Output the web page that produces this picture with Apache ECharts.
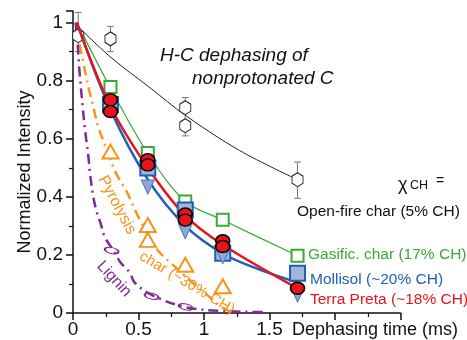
<!DOCTYPE html>
<html>
<head>
<meta charset="utf-8">
<script src="https://cdn.jsdelivr.net/npm/echarts@6/dist/echarts.min.js"></script>
<style>
  html, body { margin: 0; padding: 0; background: #fff; }
  #dephasing { width: 467px; height: 340px; }
</style>
</head>
<body>
<div id="dephasing"></div>
<script>
// x = dephasing time (ms), y = normalized intensity
var xTicks = [0, 0.5, 1, 1.5];

// open-fire char (hexagons) + error bars [t, low, high] + fit curve
var openFire = [[0.04, 0.955], [0.286, 0.944], [0.857, 0.707], [0.857, 0.645], [1.714, 0.459]];
var openFireErr = [[0.04, 0.90, 1.035], [0.286, 0.90, 0.987], [0.857, 0.61, 0.742], [1.714, 0.395, 0.52]];
var openFireFit = [[0.03, 0.99], [0.29, 0.88], [0.59, 0.775], [0.86, 0.68], [1.27, 0.56], [1.71, 0.46]];

// gasification char (open squares)
var gasific = [[0.286, 0.778], [0.571, 0.551], [0.857, 0.384], [1.143, 0.321], [1.714, 0.197]];
var gasificFit = [[0.03, 1], [0.286, 0.775], [0.571, 0.55], [0.857, 0.385], [1.143, 0.32], [1.714, 0.197]];

// mollisol (filled squares + down triangles)
var mollisolSq = [[0.286, 0.718], [0.571, 0.499], [0.857, 0.355], [1.143, 0.206], [1.714, 0.137]];
var mollisolTri = [[0.571, 0.434], [0.857, 0.28], [1.143, 0.194], [1.714, 0.062]];
var mollisolFit = [[0.03, 1], [0.286, 0.70], [0.571, 0.46], [0.857, 0.30], [1.143, 0.205], [1.42, 0.15], [1.714, 0.105]];

// terra preta (red circles)
var terraPreta = [[0.286, 0.734], [0.286, 0.694], [0.571, 0.528], [0.571, 0.51], [0.857, 0.341], [0.857, 0.32],
  [1.143, 0.249], [1.143, 0.229], [1.714, 0.085]];
var terraPretaFit = [[0.03, 1], [0.286, 0.712], [0.571, 0.50], [0.857, 0.335], [1.143, 0.235], [1.714, 0.085]];

// pyrolysis char (open triangles)
var pyrolysis = [[0.286, 0.556], [0.571, 0.303], [0.571, 0.252], [0.857, 0.166], [1.143, 0.092]];
var pyrolysisFit = [[0.02, 1], [0.053, 0.92], [0.08, 0.86], [0.117, 0.78], [0.155, 0.71], [0.19, 0.645], [0.26, 0.56],
  [0.33, 0.48], [0.41, 0.418], [0.5, 0.33], [0.64, 0.22], [0.74, 0.175], [0.9, 0.11], [1.03, 0.06], [1.12, 0.025], [1.2, 0.005]];

// lignin (open ellipses)
var lignin = [[0.295, 0.215], [0.6, 0.058], [0.86, 0.021]];
var ligninFit = [[0.02, 1], [0.035, 0.93], [0.05, 0.83], [0.074, 0.71], [0.092, 0.63], [0.117, 0.54], [0.13, 0.48],
  [0.155, 0.40], [0.18, 0.35], [0.21, 0.31], [0.244, 0.26], [0.31, 0.215], [0.36, 0.176], [0.435, 0.138], [0.47, 0.105],
  [0.61, 0.06], [0.86, 0.02], [1.1, 0.008], [1.45, 0.003]];

var FONT = 'Liberation Sans, Arial, Helvetica, sans-serif';
var BLACK = '#111', GREEN = '#3aa935', BLUE = '#1f5fb4', RED = '#e8131b', ORANGE = '#f7941d', PURPLE = '#7e2b92';
var HEX = 'path://M0,-1 L0.866,-0.5 L0.866,0.5 L0,1 L-0.866,0.5 L-0.866,-0.5 Z';

var chartDom = document.getElementById('dephasing');
var myChart = echarts.init(chartDom, null, { renderer: 'canvas', devicePixelRatio: 1 });

function fitLine(data, color, width, type, z) {
  return {
    type: 'line', data: data, smooth: 0.35, symbol: 'none', z: z,
    lineStyle: { color: color, width: width, type: type || 'solid' },
    silent: true
  };
}
function marks(data, symbol, size, fill, stroke, bw, z, rotate) {
  return {
    type: 'scatter', data: data, symbol: symbol, symbolSize: size, symbolRotate: rotate || 0, z: z,
    itemStyle: { color: fill, borderColor: stroke, borderWidth: bw, opacity: 1 },
    silent: true
  };
}
function label(text, x, y, font, color, rotation, align) {
  return {
    type: 'text', silent: true, z: 10, x: x, y: y, rotation: rotation || 0,
    style: { text: text, font: font, fill: color, align: align || 'left', verticalAlign: 'middle' }
  };
}

var option = {
  animation: false,
  grid: { left: 73, right: 66.5, top: 11, bottom: 27 },
  xAxis: {
    type: 'value', min: 0, max: 2.5, interval: 0.5,
    axisLine: { show: true, onZero: false, lineStyle: { color: BLACK, width: 1.5 } },
    axisTick: { show: true, length: 7, lineStyle: { color: BLACK, width: 1.5 } },
    minorTick: { show: true, splitNumber: 2, length: 4, lineStyle: { color: BLACK, width: 1.2 } },
    splitLine: { show: false },
    axisLabel: {
      margin: 7, fontSize: 19, color: BLACK, fontFamily: FONT,
      formatter: function (v) { return xTicks.indexOf(v) >= 0 ? String(v) : ''; }
    }
  },
  yAxis: {
    type: 'value', min: 0, max: 1.04, interval: 0.2,
    axisLine: { show: true, onZero: false, lineStyle: { color: BLACK, width: 1.5 } },
    axisTick: { show: true, length: 7, lineStyle: { color: BLACK, width: 1.5 } },
    minorTick: { show: true, splitNumber: 2, length: 4, lineStyle: { color: BLACK, width: 1.2 } },
    splitLine: { show: false },
    axisLabel: { margin: 10, fontSize: 19, color: BLACK, fontFamily: FONT, showMaxLabel: false }
  },
  series: [
    {
      type: 'custom', z: 2, silent: true,
      data: openFireErr,
      encode: { x: 0, y: [1, 2] },
      renderItem: function (params, api) {
        var lo = api.coord([api.value(0), api.value(1)]);
        var hi = api.coord([api.value(0), api.value(2)]);
        var w = 3.5, st = { stroke: '#777', lineWidth: 1 };
        return {
          type: 'group', children: [
            { type: 'line', shape: { x1: lo[0], y1: lo[1], x2: hi[0], y2: hi[1] }, style: st },
            { type: 'line', shape: { x1: lo[0] - w, y1: lo[1], x2: lo[0] + w, y2: lo[1] }, style: st },
            { type: 'line', shape: { x1: hi[0] - w, y1: hi[1], x2: hi[0] + w, y2: hi[1] }, style: st }
          ]
        };
      }
    },
    fitLine(openFireFit, '#222', 1, 'solid', 3),
    marks(openFire, HEX, [11, 14], '#fff', '#222', 1, 4),
    fitLine(gasificFit, GREEN, 1.2, 'solid', 3),
    fitLine(pyrolysisFit, ORANGE, 2.5, [10, 5, 2, 5], 3),
    fitLine(ligninFit, PURPLE, 2.5, [10, 5, 2, 5], 3),
    marks(gasific, 'rect', 12, '#fff', GREEN, 2, 4),
    marks(pyrolysis, 'triangle', [16, 14], '#fff', ORANGE, 2, 4),
    marks(lignin, 'circle', [14, 6], 'rgba(255,255,255,0)', PURPLE, 1.5, 4, -12),
    fitLine(mollisolFit, BLUE, 2.5, 'solid', 5),
    fitLine(terraPretaFit, RED, 2.5, 'solid', 5),
    marks(mollisolSq, 'rect', 15, '#a3b5db', BLUE, 2, 6),
    marks(mollisolTri, 'triangle', [13, 14], '#8fa7d6', '#4a78bf', 1, 6, 180),
    marks(terraPreta, 'circle', [14, 12], RED, '#000', 1.5, 7)
  ],
  graphic: [
    label('Normalized Intensity', 25, 172, '18px ' + FONT, BLACK, Math.PI / 2, 'center'),
    label('Dephasing time (ms)', 292, 330, '18px ' + FONT, BLACK),
    label('H-C dephasing of', 160, 55.5, 'italic 19px ' + FONT, BLACK),
    label('nonprotonated C', 192, 79, 'italic 19px ' + FONT, BLACK),
    label('χ', 398, 185, '18px ' + FONT, BLACK),
    label('CH', 410, 186, '12.5px ' + FONT, BLACK),
    label('=', 436, 181, '14px ' + FONT, BLACK),
    label('Open-fire char (5% CH)', 297, 212, '15.5px ' + FONT, BLACK),
    label('Gasific. char (17% CH)', 308, 255, '15.5px ' + FONT, GREEN),
    label('Mollisol (~20% CH)', 310, 280, '15.5px ' + FONT, BLUE),
    label('Terra Preta (~18% CH)', 310, 300, '15.5px ' + FONT, RED),
    label('Pyrolysis', 117, 205, '16px ' + FONT, ORANGE, -1.08, 'center'),
    label('char (~30% CH)', 187, 283, '15px ' + FONT, ORANGE, -0.54, 'center'),
    label('Lignin', 114, 279, '16px ' + FONT, PURPLE, -0.82, 'center')
  ]
};

option && myChart.setOption(option);
</script>
</body>
</html>
